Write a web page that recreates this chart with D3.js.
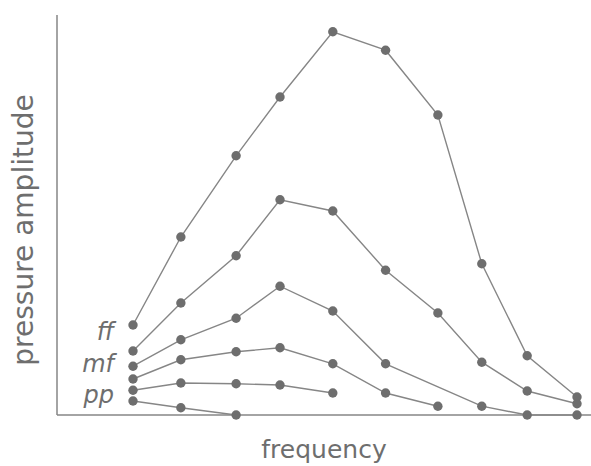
<!DOCTYPE html>
<html>
<head>
<meta charset="utf-8">
<script src="https://cdn.jsdelivr.net/npm/d3@7"></script>
<style>
  body { margin: 0; background: #fff; }
  svg { display: block; }
</style>
</head>
<body>
<div id="chart"></div>
<script>
// harmonic frequencies (x)
const freqs = [1, 1.97, 3.09, 3.98, 5.05, 6.12, 7.18, 8.07, 8.99, 10];

// pressure amplitude per dynamic level (null = no point drawn there)
const ffVals = [22.5, 44.5, 64.8, 79.5, 95.8, 91.2, 75, 37.8, 14.8, 4.5];
const fVals  = [16, 28, 39.8, 53.8, 51, 36.2, 25.5, 13.2, 6, 2.8];
const mfVals = [12.2, 18.8, 24.2, 32.2, 26, 12.8, null, 2.2, 0, 0];
const mpVals = [9, 13.8, 15.8, 16.8, 12.8, 5.5, 2.2];
const pVals  = [6.2, 8, 7.8, 7.5, 5.5];
const ppVals = [3.5, 1.8, 0];

const dynLabels = ['ff', 'mf', 'pp'];
const xLabel = 'frequency';
const yLabel = 'pressure amplitude';

const width = 591, height = 466;
const margin = {left: 57, top: 15, bottom: 51};

const lineColor = '#868686';
const dotColor = '#6e6e6e';
const textColor = '#6e6e6e';

const svg = d3.select('#chart')
    .append('svg')
    .attr('width', width)
    .attr('height', height);

const xScale = d3.scaleLinear()
    .domain([1, 10])
    .range([133, 577]);
const yScale = d3.scaleLinear()
    .domain([0, 100])
    .range([height - margin.bottom, margin.top]);

const allSeries = [ffVals, fVals, mfVals, mpVals, pVals, ppVals];

// axes: plain lines, no ticks
svg.append('line')
    .attr('x1', margin.left).attr('x2', margin.left)
    .attr('y1', margin.top).attr('y2', yScale(0))
    .attr('stroke', lineColor).attr('stroke-width', 1.5);
svg.append('line')
    .attr('x1', margin.left).attr('x2', width)
    .attr('y1', yScale(0)).attr('y2', yScale(0))
    .attr('stroke', lineColor).attr('stroke-width', 1.5);

const line = d3.line()
    .x(d => xScale(d.f))
    .y(d => yScale(d.v));

allSeries.forEach(function(vals) {
    let pts = [];
    vals.forEach(function(v, i) {
        if (v !== null) pts.push({f: freqs[i], v: v});
    });
    svg.append('path')
        .datum(pts)
        .attr('d', line)
        .attr('fill', 'none')
        .attr('stroke', lineColor)
        .attr('stroke-width', 1.4);
    svg.selectAll(null)
        .data(pts)
        .enter()
        .append('circle')
        .attr('cx', d => xScale(d.f))
        .attr('cy', d => yScale(d.v))
        .attr('r', 4.7)
        .attr('fill', dotColor);
});

// dynamic level labels next to the first point of ff, mf, pp
const labelSeries = [ffVals, mfVals, ppVals];
const labelDy = [15, 6, 2];
dynLabels.forEach(function(t, i) {
    svg.append('text')
        .text(t)
        .attr('x', 114)
        .attr('y', yScale(labelSeries[i][0]) + labelDy[i])
        .attr('text-anchor', 'end')
        .attr('font-family', 'DejaVu Sans')
        .attr('font-style', 'italic')
        .attr('font-size', 24)
        .attr('fill', textColor);
});

svg.append('text')
    .text(xLabel)
    .attr('x', 324)
    .attr('y', 458)
    .attr('text-anchor', 'middle')
    .attr('font-family', 'DejaVu Sans')
    .attr('font-size', 25)
    .attr('fill', textColor);

svg.append('text')
    .text(yLabel)
    .attr('transform', 'translate(33,230) rotate(-90)')
    .attr('text-anchor', 'middle')
    .attr('font-family', 'DejaVu Sans')
    .attr('font-size', 28)
    .attr('fill', textColor);
</script>
</body>
</html>
